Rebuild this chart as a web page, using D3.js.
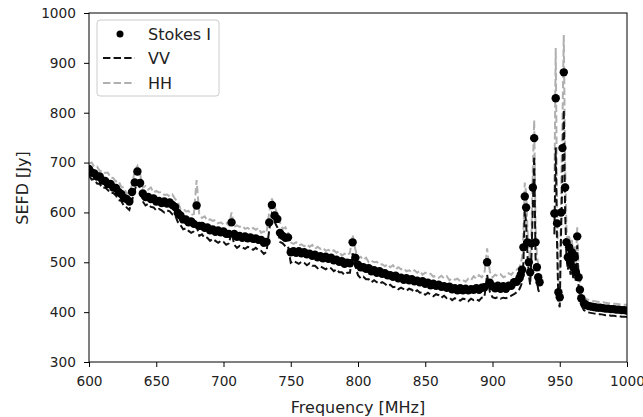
<!DOCTYPE html>
<html><head><meta charset="utf-8">
<script src="https://cdn.jsdelivr.net/npm/d3@7/dist/d3.min.js"></script>
<style>
body{margin:0;background:#fff;}
svg text{font-family:"DejaVu Sans",sans-serif;fill:#222;}
</style>
</head><body>
<svg id="chart" width="643" height="417"></svg>
<script>
// Frequency grid [MHz]
const freq = [
  600,602,604,606,608,610,612,614,616,618,
  620,622,624,626,628,630,632,634,636,638,
  640,642,644,646,648,650,652,654,656,658,
  660,662,664,666,668,670,672,674,676,678,
  680,682,684,686,688,690,692,694,696,698,
  700,702,704,706,708,710,712,714,716,718,
  720,722,724,726,728,730,732,734,736,738,
  740,742,744,746,748,750,752,754,756,758,
  760,762,764,766,768,770,772,774,776,778,
  780,782,784,786,788,790,792,794,796,798,
  800,802,804,806,808,810,812,814,816,818,
  820,822,824,826,828,830,832,834,836,838,
  840,842,844,846,848,850,852,854,856,858,
  860,862,864,866,868,870,872,874,876,878,
  880,882,884,886,888,890,892,894,896,898,
  900,902,904,906,908,910,912,914,916,918,
  920,921,922,923,924,925,926,927,928,929,
  930,931,932,933,934,935,940,946,947,948,
  949,950,951,952,953,954,955,956,957,958,
  959,960,961,962,963,964,965,966,968,970,
  972,974,976,978,980,982,984,986,988,990,
  992,994,996,998,1000
];
// Stokes I SEFD [Jy] (null = flagged)
const stokesI = [
  687,680,678,672,672,664,663,657,657,650,
  649,641,637,629,627,622,641,660,682,659,
  638,631,631,627,628,622,623,619,622,618,
  620,615,611,599,594,586,586,580,582,577,
  614,573,573,569,570,564,566,561,564,560,
  562,557,557,580,557,551,553,549,552,548,
  550,547,548,545,545,539,541,580,615,594,
  587,559,553,549,550,520,522,519,522,518,
  520,516,517,513,515,510,512,508,511,507,
  509,504,505,501,502,497,499,498,540,509,
  495,490,490,487,488,482,484,479,482,477,
  478,474,474,471,473,468,469,465,468,464,
  466,462,463,460,462,457,459,454,457,453,
  455,451,452,449,451,446,448,444,448,444,
  447,444,446,445,448,445,449,450,500,459,
  452,448,453,447,452,447,453,453,460,461,
  468,475,485,530,632,610,540,500,480,538,
  650,749,540,490,470,460,null,598,829,578,
  440,430,600,729,881,650,540,510,530,500,
  520,490,510,480,552,470,445,428,418,414,
  412,411,410,409,409,408,407,407,406,406,
  405,405,404,404,403
];
// VV polarisation SEFD [Jy]
const vv = [
  674,666,667,658,657,649,650,645,639,639,
  634,625,623,613,610,605,624,645,660,648,
  622,614,617,611,610,604,607,604,600,604,
  602,596,595,581,575,566,568,563,559,562,
  572,553,556,549,549,543,547,543,539,543,
  541,535,538,560,535,529,533,530,527,531,
  529,525,529,524,523,517,521,565,596,581,
  570,541,538,532,532,499,503,500,497,501,
  499,494,498,493,493,488,492,489,486,490,
  488,482,486,480,480,475,479,479,518,493,
  474,468,471,466,466,460,464,460,457,460,
  457,452,455,450,451,446,449,446,443,447,
  445,440,444,439,440,435,439,435,432,436,
  434,429,433,428,429,424,428,425,423,427,
  426,422,427,424,426,423,429,430,475,441,
  430,428,430,427,429,428,430,433,436,440,
  446,452,460,500,605,580,515,475,455,515,
  610,713,510,465,445,438,null,556,730,536,
  420,410,560,680,806,600,510,485,505,475,
  495,468,488,460,534,450,428,414,404,401,
  399,398,397,396,396,395,394,394,393,393,
  392,392,391,391,390
];
// HH polarisation SEFD [Jy]
const hh = [
  698,700,691,692,683,684,679,680,670,669,
  662,663,651,650,637,641,655,683,693,677,
  650,653,646,650,640,643,640,641,635,636,
  632,636,627,622,607,608,602,603,595,597,
  665,595,589,592,584,586,583,585,578,580,
  576,579,574,600,571,574,571,573,567,569,
  565,569,565,569,559,562,559,601,628,611,
  598,580,567,570,561,540,537,540,534,536,
  532,536,531,535,527,531,527,529,523,525,
  521,524,519,522,513,517,514,519,555,526,
  508,511,505,509,500,503,500,501,495,496,
  492,496,490,494,486,490,486,488,482,484,
  480,484,479,483,475,479,476,477,471,473,
  469,473,468,472,464,468,465,467,462,464,
  461,467,464,472,467,474,470,478,528,481,
  470,475,472,476,470,472,478,475,482,485,
  490,498,510,560,660,640,565,525,505,560,
  690,785,570,515,495,482,null,640,930,620,
  460,450,640,780,956,700,570,535,555,525,
  545,512,532,500,570,490,462,442,430,426,
  424,423,422,421,420,420,419,418,418,417,
  417,416,416,415,415
];
const xTicks = [600,650,700,750,800,850,900,950,1000];
const yTicks = [300,400,500,600,700,800,900,1000];
const legendLabels = ["Stokes I","VV","HH"];

const svg = d3.select('#chart');
const L=89, T=13, R=627, B=362;
const x = d3.scaleLinear().domain([600,1000]).range([L,R]);
const y = d3.scaleLinear().domain([300,1000]).range([B,T]);

svg.append('clipPath').attr('id','clip').append('rect')
  .attr('x',L).attr('y',T).attr('width',R-L).attr('height',B-T);
const plot = svg.append('g').attr('clip-path','url(#clip)');
const idx = d3.range(freq.length);
const mkLine = arr => d3.line().defined(i=>arr[i]!=null).x(i=>x(freq[i])).y(i=>y(arr[i]));

plot.append('path').datum(idx).attr('d',mkLine(hh))
  .attr('fill','none').attr('stroke','#b0b0b0').attr('stroke-width',2).attr('stroke-dasharray','7.4,3.2');
plot.append('path').datum(idx).attr('d',mkLine(vv))
  .attr('fill','none').attr('stroke','#111').attr('stroke-width',2).attr('stroke-dasharray','7.4,3.2');
plot.selectAll('circle.pt').data(idx.filter(i=>stokesI[i]!=null)).join('circle')
  .attr('class','pt').attr('cx',i=>x(freq[i])).attr('cy',i=>y(stokesI[i])).attr('r',4.2).attr('fill','#000');

// axes
const gx = svg.append('g').attr('transform',`translate(0,${B})`)
  .call(d3.axisBottom(x).tickValues(xTicks).tickSize(5).tickPadding(9).tickFormat(d3.format('d')));
const gy = svg.append('g').attr('transform',`translate(${L},0)`)
  .call(d3.axisLeft(y).tickValues(yTicks).tickSize(5).tickPadding(8).tickFormat(d3.format('d')));
[gx,gy].forEach(g=>{
  g.select('.domain').remove();
  g.selectAll('.tick line').attr('stroke','#000');
  g.selectAll('.tick text').attr('font-size',13.7).style('font-family','"DejaVu Sans",sans-serif').attr('fill','#222');
});
svg.append('rect').attr('x',L).attr('y',T).attr('width',R-L).attr('height',B-T)
  .attr('fill','none').attr('stroke','#000').attr('stroke-width',1);

svg.append('text').attr('x',(L+R)/2).attr('y',407).attr('text-anchor','middle')
  .attr('dominant-baseline','central').attr('font-size',16).text('Frequency [MHz]');
svg.append('text').attr('transform','translate(22,188) rotate(-90)').attr('text-anchor','middle')
  .attr('dominant-baseline','central').attr('font-size',16).text('SEFD [Jy]');

// legend
const lg = svg.append('g');
lg.append('rect').attr('x',97).attr('y',20).attr('width',122).attr('height',76).attr('rx',3)
  .attr('fill','#fff').attr('fill-opacity',0.8).attr('stroke','#ccc');
const rows=[34,58,83];
lg.append('circle').attr('cx',120).attr('cy',rows[0]).attr('r',3.5).attr('fill','#000');
lg.append('line').attr('x1',103).attr('x2',135).attr('y1',rows[1]).attr('y2',rows[1])
  .attr('stroke','#111').attr('stroke-width',2).attr('stroke-dasharray','7.4,3.2');
lg.append('line').attr('x1',103).attr('x2',135).attr('y1',rows[2]).attr('y2',rows[2])
  .attr('stroke','#b0b0b0').attr('stroke-width',2).attr('stroke-dasharray','7.4,3.2');
legendLabels.forEach((t,i)=>{
  lg.append('text').attr('x',148).attr('y',rows[i]).attr('dominant-baseline','central')
    .attr('font-size',16).text(t);
});
</script>
</body></html>
